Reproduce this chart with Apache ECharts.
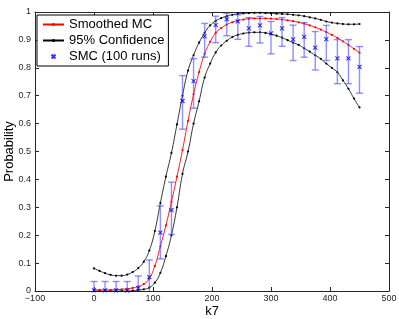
<!DOCTYPE html>
<html>
<head>
<meta charset="utf-8">
<script src="https://cdn.jsdelivr.net/npm/echarts@6/dist/echarts.min.js"></script>
<style>html,body{margin:0;padding:0;background:#fff;}#c{width:399px;height:319px;}</style>
</head>
<body>
<div id="c"></div>
<script>
// SMC (100 runs) sample positions and values
const kSmc = [0, 18.75, 37.5, 56.25, 75, 93.75, 112.5, 131.25, 150, 168.75, 187.5, 206.25, 225,
  243.75, 262.5, 281.25, 300, 318.75, 337.5, 356.25, 375, 393.75, 412.5, 431.25, 450];
const smcMean = [0.002, 0.002, 0.002, 0.001, 0.010, 0.050, 0.209, 0.290, 0.681, 0.752, 0.913, 0.953, 0.974,
  0.966, 0.941, 0.952, 0.923, 0.941, 0.902, 0.911, 0.872, 0.903, 0.834, 0.834, 0.803];
const smcLow = [-0.030, -0.030, -0.030, -0.031, -0.034, -0.011, 0.115, 0.203, 0.580, 0.655, 0.838, 0.890, 0.915,
  0.902, 0.877, 0.889, 0.850, 0.877, 0.826, 0.838, 0.792, 0.826, 0.743, 0.743, 0.709];
const smcHigh = [0.034, 0.034, 0.034, 0.034, 0.054, 0.111, 0.305, 0.390, 0.772, 0.833, 0.959, 0.985, 0.995,
  0.990, 0.980, 0.984, 0.966, 0.980, 0.953, 0.962, 0.930, 0.952, 0.901, 0.901, 0.876];

// Smoothed curves
const kCurve = [0, 9.375, 18.75, 28.125, 37.5, 46.875, 56.25, 65.625, 75, 84.375, 93.75, 103.125, 112.5,
  121.875, 131.25, 140.625, 150, 159.375, 168.75, 178.125, 187.5, 196.875, 206.25, 215.625, 225,
  234.375, 243.75, 253.125, 262.5, 271.875, 281.25, 290.625, 300, 309.375, 318.75, 328.125, 337.5,
  346.875, 356.25, 365.625, 375, 384.375, 393.75, 403.125, 412.5, 421.875, 431.25, 440.625, 450];
const smoothedMC = [0.004, 0.004, 0.004, 0.004, 0.005, 0.006, 0.008, 0.011, 0.016, 0.025, 0.045, 0.090, 0.160,
  0.235, 0.320, 0.410, 0.505, 0.610, 0.705, 0.785, 0.850, 0.893, 0.925, 0.942, 0.955,
  0.963, 0.969, 0.973, 0.976, 0.977, 0.977, 0.977, 0.976, 0.975, 0.973, 0.970, 0.967,
  0.963, 0.958, 0.952, 0.945, 0.937, 0.928, 0.918, 0.907, 0.895, 0.882, 0.868, 0.854];
const confUpper = [0.081, 0.072, 0.064, 0.058, 0.055, 0.055, 0.059, 0.068, 0.082, 0.105, 0.145, 0.215, 0.315,
  0.410, 0.495, 0.597, 0.700, 0.790, 0.845, 0.890, 0.925, 0.952, 0.968, 0.978, 0.985,
  0.990, 0.993, 0.995, 0.996, 0.997, 0.997, 0.996, 0.995, 0.994, 0.993, 0.992, 0.990,
  0.988, 0.985, 0.981, 0.977, 0.972, 0.966, 0.962, 0.959, 0.957, 0.956, 0.956, 0.957];
const confLower = [0.000, 0.000, 0.000, 0.000, 0.000, 0.000, 0.000, 0.001, 0.003, 0.006, 0.012, 0.030, 0.065,
  0.125, 0.200, 0.300, 0.420, 0.500, 0.600, 0.680, 0.765, 0.815, 0.855, 0.880, 0.897,
  0.910, 0.918, 0.923, 0.926, 0.927, 0.927, 0.925, 0.921, 0.915, 0.908, 0.899, 0.890,
  0.882, 0.870, 0.858, 0.845, 0.832, 0.815, 0.800, 0.784, 0.755, 0.725, 0.690, 0.658];

const xTicks = [-100, 0, 100, 200, 300, 400, 500];
const yTicks = [0, 0.1, 0.2, 0.3, 0.4, 0.5, 0.6, 0.7, 0.8, 0.9, 1];

const FONT = '"Liberation Sans", Arial, Helvetica, sans-serif';
const AX = '#262626';

const chart = echarts.init(document.getElementById('c'), null, {renderer: 'canvas'});

const pair = (xs, ys) => xs.map((x, i) => [x, ys[i]]);
const xMark = 'path://M0,0L10,10M10,0L0,10';

const axisCommon = {
  axisLine: {show: true, onZero: false, lineStyle: {color: AX, width: 1}},
  axisTick: {show: true, inside: true, length: 4, lineStyle: {color: AX, width: 1}},
  splitLine: {show: false}
};

chart.setOption({
  animation: false,
  backgroundColor: '#fff',
  grid: {left: 35, right: 10, top: 12, bottom: 28, containLabel: false, outerBoundsMode: 'none'},
  legend: {
    left: 37, top: 15, orient: 'vertical',
    backgroundColor: '#fff', borderColor: '#000', borderWidth: 1, borderRadius: 0,
    padding: [2, 4, 2, 5], itemGap: 1, itemWidth: 21, itemHeight: 4,
    textStyle: {fontFamily: FONT, fontSize: 13, color: '#000', padding: [0, 0, 0, 0], lineHeight: 15},
    data: ['Smoothed MC', '95% Confidence', 'SMC (100 runs)']
  },
  xAxis: [
    Object.assign({}, axisCommon, {
      type: 'value', min: -100, max: 500, interval: 100, position: 'bottom',
      name: 'k7', nameLocation: 'middle', nameGap: 14, nameMoveOverlap: false,
      nameTextStyle: {fontFamily: FONT, fontSize: 13, color: '#000'},
      axisLabel: {fontFamily: FONT, fontSize: 9, color: AX, margin: 3,
        formatter: v => xTicks.includes(v) ? String(v).replace('-', '\u2212') : ''}
    }),
    Object.assign({}, axisCommon, {
      type: 'value', min: -100, max: 500, interval: 100, position: 'top',
      axisLabel: {show: false}
    })
  ],
  yAxis: [
    Object.assign({}, axisCommon, {
      type: 'value', min: 0, max: 1, interval: 0.1, position: 'left',
      name: 'Probability', nameLocation: 'middle', nameGap: 19, nameRotate: 90, nameMoveOverlap: false,
      nameTextStyle: {fontFamily: FONT, fontSize: 13, color: '#000'},
      axisLabel: {fontFamily: FONT, fontSize: 9, color: AX, margin: 4,
        formatter: v => {
          const t = yTicks.find(y => Math.abs(y - v) < 1e-9);
          if (t === undefined) return '';
          return (t === 0 || t === 1) ? String(t) : t.toFixed(1);
        }}
    }),
    Object.assign({}, axisCommon, {
      type: 'value', min: 0, max: 1, interval: 0.1, position: 'right',
      axisLabel: {show: false}
    })
  ],
  series: [
    {
      name: '95% Confidence', type: 'line', smooth: true, data: pair(kCurve, confUpper),
      lineStyle: {color: '#000', width: 0.8}, itemStyle: {color: '#000'},
      symbol: 'circle', symbolSize: 2.2, showSymbol: true, z: 2
    },
    {
      name: '95% Confidence', type: 'line', smooth: true, data: pair(kCurve, confLower),
      lineStyle: {color: '#000', width: 0.8}, itemStyle: {color: '#000'},
      symbol: 'circle', symbolSize: 2.2, showSymbol: true, z: 2
    },
    {
      name: 'Smoothed MC', type: 'line', smooth: true, data: pair(kCurve, smoothedMC),
      lineStyle: {color: '#ff0000', width: 0.9}, itemStyle: {color: '#ff0000'},
      symbol: 'circle', symbolSize: 2.2, showSymbol: true, z: 3
    },
    {
      name: 'errbars', type: 'custom', z: 4,
      data: kSmc.map((k, i) => [k, smcLow[i], smcHigh[i]]),
      renderItem: (params, api) => {
        const k = api.value(0), lo = api.value(1), hi = api.value(2);
        const cs = params.coordSys;
        const top = cs.y, bottom = cs.y + cs.height;
        const pLo = api.coord([k, lo]), pHi = api.coord([k, hi]);
        const x = pLo[0];
        const yLo = Math.min(pLo[1], bottom), yHi = Math.max(pHi[1], top);
        const style = {stroke: 'rgba(70,70,255,0.6)', lineWidth: 1.4};
        const ch = [{type: 'line', shape: {x1: x, y1: yLo, x2: x, y2: yHi}, style: style}];
        const w = 3.5;
        if (pHi[1] >= top) ch.push({type: 'line', shape: {x1: x - w, y1: pHi[1], x2: x + w, y2: pHi[1]}, style: style});
        if (pLo[1] <= bottom) ch.push({type: 'line', shape: {x1: x - w, y1: pLo[1], x2: x + w, y2: pLo[1]}, style: style});
        return {type: 'group', children: ch};
      }
    },
    {
      name: 'SMC (100 runs)', type: 'scatter', data: pair(kSmc, smcMean),
      symbol: xMark, symbolSize: 4,
      itemStyle: {color: 'rgba(0,0,0,0)', borderColor: '#0000ff', borderWidth: 1.1},
      z: 5
    }
  ]
});
</script>
</body>
</html>
